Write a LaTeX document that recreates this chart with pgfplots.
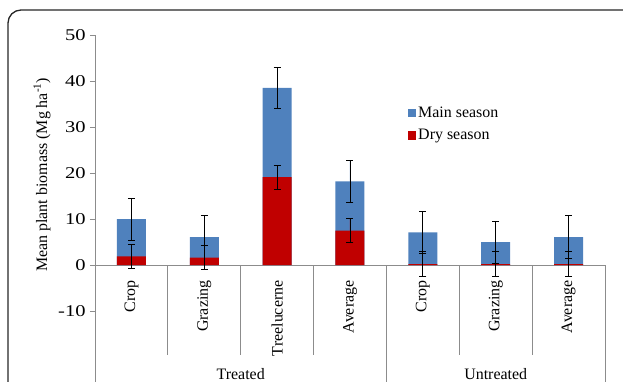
\documentclass[border=0pt]{standalone}
\usepackage{fontspec}
\setmainfont{Liberation Serif}
\usepackage{pgfplots}
\pgfplotsset{compat=1.18}
\definecolor{mainblue}{HTML}{4F81BD}
\definecolor{dryred}{HTML}{C00000}
\definecolor{axgray}{HTML}{8C8C8C}
\begin{document}
\begin{tikzpicture}[font=\fontsize{16}{19.2}\selectfont]
\draw[line width=1.3bp, black!85, rounded corners=13bp] (-87bp,-5bp) -- (-87bp,372bp) -- (540bp,372bp);
\begin{axis}[
  scale only axis, width=510bp, height=347bp,
  at={(0,0)}, anchor=south west,
  xmin=-0.5, xmax=6.5, ymin=-25.4, ymax=50,
  clip=false,
  axis y line*=left, axis x line*=bottom,
  x axis line style={draw=none},
  y axis line style={axgray, line width=0.8bp},
  ytick={-10,0,10,20,30,40,50},
  xtick={0,1,2,3,4,5,6},
  xticklabels={Crop,Grazing,Treelucerne,Average,Crop,Grazing,Average},
  xticklabel style={rotate=90, anchor=east},
  xticklabel shift=-110bp,
  tick label style={font=\fontsize{16}{19.2}\selectfont},
  yticklabel style={font=\fontsize{16.5}{19.2}\selectfont, xscale=1.25},
  /pgf/number format/assume math mode=true,
  major tick length=5bp, tick align=outside,
  ytick style={axgray, line width=0.8bp},
  xtick style={draw=none},
  every axis y label/.style={at={(axis description cs:-0.104,0.597)}, rotate=90, anchor=center},
  ylabel={Mean plant biomass (Mg ha\textsuperscript{-1})},
  legend style={at={(axis description cs:0.607,0.806)}, anchor=north west, draw=none, fill=none, row sep=7bp, font=\fontsize{16}{19.2}\selectfont},
  legend cell align=left,
  error bars/error bar style={draw=black, line width=0.8bp},
  error bars/error mark options={rotate=90, draw=black, line width=0.8bp, mark size=3.5bp},
]
\draw[axgray, line width=0.8bp] (axis cs:-0.5,0) -- (axis cs:6.5,0);
\draw[axgray, line width=0.8bp] (axis cs:0.5,0) -- (axis cs:0.5,-19.6);
\draw[axgray, line width=0.8bp] (axis cs:1.5,0) -- (axis cs:1.5,-19.6);
\draw[axgray, line width=0.8bp] (axis cs:2.5,0) -- (axis cs:2.5,-19.6);
\draw[axgray, line width=0.8bp] (axis cs:4.5,0) -- (axis cs:4.5,-19.6);
\draw[axgray, line width=0.8bp] (axis cs:5.5,0) -- (axis cs:5.5,-19.6);
\draw[axgray, line width=0.8bp] (axis cs:3.5,0) -- (axis cs:3.5,-25.4);
\draw[axgray, line width=0.8bp] (axis cs:6.5,0) -- (axis cs:6.5,-25.4);
% Main season (stack top = dry + main)
\addplot[ybar, bar width=29bp, bar shift=0pt, fill=mainblue, draw=none,
  legend image code/.code={\fill[mainblue] (0bp,-4.5bp) rectangle (8.5bp,4bp);},
  error bars/.cd, y dir=both, y explicit]
  coordinates {(0,10.0) +- (0,4.6) (1,6.1) +- (0,4.6) (2,38.5) +- (0,4.5) (3,18.2) +- (0,4.6)
               (4,7.1) +- (0,4.6) (5,5.0) +- (0,4.6) (6,6.1) +- (0,4.6)};
\addlegendentry{Main season}
% Dry season
\addplot[ybar, bar width=29bp, bar shift=0pt, fill=dryred, draw=none,
  legend image code/.code={\fill[dryred] (0bp,-4.5bp) rectangle (8.5bp,4bp);},
  error bars/.cd, y dir=both, y explicit]
  coordinates {(0,1.9) +- (0,2.6) (1,1.65) +- (0,2.6) (2,19.1) +- (0,2.65) (3,7.5) +- (0,2.55)
               (4,0.2) +- (0,2.7) (5,0.2) +- (0,2.7) (6,0.2) +- (0,2.7)};
\addlegendentry{Dry season}
\node[anchor=base] at ([yshift=2.5bp]axis cs:1.5,-25.4) {Treated};
\node[anchor=base] at ([yshift=2.5bp]axis cs:5,-25.4) {Untreated};
\end{axis}
\pgfresetboundingbox
\path[use as bounding box] (-95bp,0) rectangle (528bp,382bp);
\end{tikzpicture}
\end{document}
